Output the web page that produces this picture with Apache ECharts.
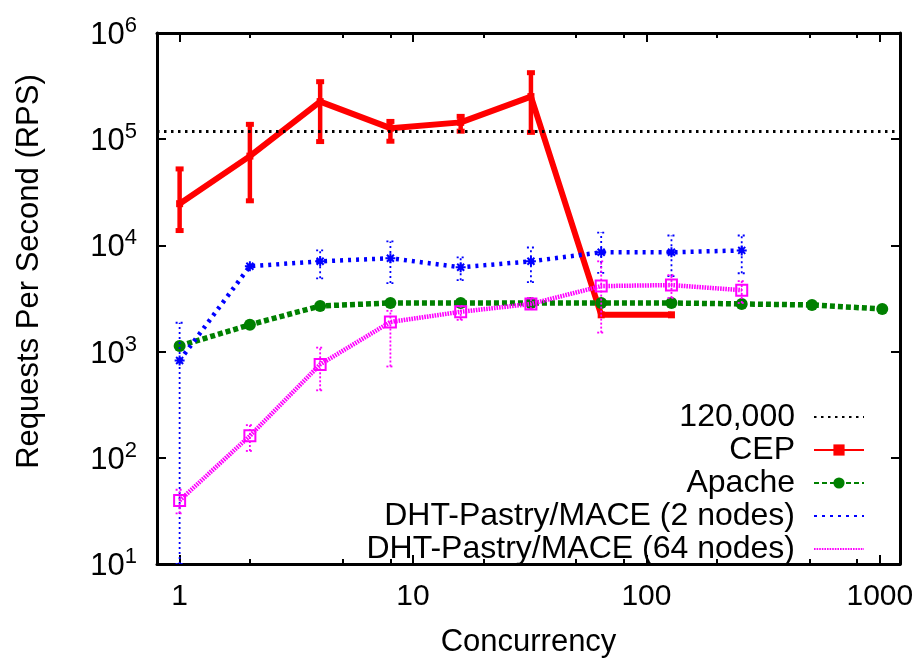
<!DOCTYPE html>
<html><head><meta charset="utf-8">
<script src="https://cdn.jsdelivr.net/npm/echarts@6/dist/echarts.min.js"></script>
<style>html,body{margin:0;padding:0;background:#fff}#c{width:922px;height:663px}</style>
</head><body><div id="c"></div>
<script>
// ---- data ----
const concurrency = [1, 2, 4, 8, 16, 32, 64, 128, 256, 512, 1024];
const xTicks = [1, 10, 100, 1000];
const xMinorTicks = [2, 5, 8, 20, 50, 80, 200, 500, 800];
const yTicks = [10, 100, 1000, 10000, 100000, 1000000];
const refValue = 120000;
const seriesNames = ['120,000', 'CEP', 'Apache', 'DHT-Pastry/MACE (2 nodes)', 'DHT-Pastry/MACE (64 nodes)'];
const cep = [24700, 69300, 226000, 127000, 144000, 252000, 2220, 2220];
const cepLow = [13800, 26300, 95000, 95700, 119000, 116000, null, null];
const cepHigh = [52500, 138000, 348000, 147000, 164000, 423000, null, null];
const apache = [1130, 1790, 2690, 2870, 2870, 2870, 2870, 2870, 2810, 2750, 2520];
const dht2 = [824, 6370, 7080, 7570, 6220, 7080, 8610, 8610, 8970];
const dht2Low = [10, null, 4900, 4420, 4710, 4510, 5500, 5130, 5470];
const dht2High = [1870, null, 8970, 10900, 7730, 9550, 13200, 12400, 12400];
const dht64 = [39.6, 161, 757, 1900, 2370, 2810, 4140, 4230, 3790];
const dht64Low = [30, 116, 432, 724, 1990, 2510, 1510, 3200, 2870];
const dht64High = [50, 203, 1090, 2420, 2690, 3200, 7080, 5250, 4610];

const FONT = 'Liberation Sans, Arial, Helvetica, sans-serif';
const RED = '#ff0000', GREEN = '#008000', BLUE = '#0000ff', MAG = '#ff00ff';

function pairs(vals) { return vals.map((v, i) => [concurrency[i], v]); }

function errSeries(name, low, high, opt) {
  const data = [];
  low.forEach((l, i) => { if (l != null) data.push([concurrency[i], l, high[i]]); });
  return {
    type: 'custom', name, data, clip: true, z: opt.z, silent: true,
    encode: { x: 0, y: [1, 2] },
    renderItem(params, api) {
      const x = api.value(0);
      const lo = api.coord([x, api.value(1)]);
      const hi = api.coord([x, api.value(2)]);
      const st = { stroke: opt.color, lineWidth: opt.width, lineDash: opt.dash || null, fill: null };
      const ch = [{ type: 'line', shape: { x1: lo[0], y1: lo[1], x2: hi[0], y2: hi[1] }, style: st }];
      if (opt.capRect) {
        [lo, hi].forEach(p => ch.push({ type: 'rect', shape: { x: p[0] - opt.capW / 2, y: p[1] - opt.capH / 2, width: opt.capW, height: opt.capH }, style: { fill: opt.color } }));
      } else {
        [lo, hi].forEach(p => ch.push({ type: 'line', shape: { x1: p[0] - opt.capW / 2, y1: p[1], x2: p[0] + opt.capW / 2, y2: p[1] }, style: st }));
      }
      return { type: 'group', children: ch };
    }
  };
}

const axisCommonX = { type: 'log', logBase: 10, min: 0.8, max: 1220, splitLine: { show: false } };
const axisCommonY = { type: 'log', logBase: 10, min: 10, max: 1000000, splitLine: { show: false } };
const tickStyle = { color: '#000', width: 2 };

const asterisk = 'path://M5,0L5,10M0,5L10,5M1.5,1.5L8.5,8.5M1.5,8.5L8.5,1.5';

// legend icons: show marker only where the reference key does
const legendShowMarker = [false, true, true, false, false];
const legends = seriesNames.map((n, i) => ({
  data: [legendShowMarker[i] ? { name: n } : { name: n, itemStyle: { opacity: 0 } }],
  right: 57, top: 401 + 33 * i, align: 'right', orient: 'vertical', padding: 0,
  itemWidth: 50, itemHeight: 14, selectedMode: false,
  textStyle: { fontSize: 32, fontFamily: FONT, color: '#000', lineHeight: 32, padding: [0, 14, 0, 0] }
}));

const option = {
  animation: false,
  backgroundColor: '#fff',
  textStyle: { fontFamily: FONT },
  grid: { left: 157, right: 22, top: 33, bottom: 95, containLabel: false },
  legend: legends,
  xAxis: [
    Object.assign({}, axisCommonX, {
      position: 'bottom',
      axisLine: { lineStyle: { color: '#000', width: 3 } },
      axisTick: { inside: true, length: 9, lineStyle: tickStyle, customValues: xTicks },
      axisLabel: { customValues: xTicks, fontSize: 30, fontFamily: FONT, color: '#000', margin: 18, formatter: v => String(Math.round(v)) },
      name: 'Concurrency', nameLocation: 'middle', nameGap: 63,
      nameTextStyle: { fontSize: 31, fontFamily: FONT, color: '#000' }
    }),
    Object.assign({}, axisCommonX, {
      position: 'bottom', axisLine: { show: false },
      axisTick: { inside: true, length: 5, lineStyle: tickStyle, customValues: xMinorTicks },
      axisLabel: { show: false }
    }),
    Object.assign({}, axisCommonX, {
      position: 'top',
      axisLine: { lineStyle: { color: '#000', width: 3 } },
      axisTick: { inside: true, length: 9, lineStyle: tickStyle, customValues: xTicks },
      axisLabel: { show: false }
    }),
    Object.assign({}, axisCommonX, {
      position: 'top', axisLine: { show: false },
      axisTick: { inside: true, length: 5, lineStyle: tickStyle, customValues: xMinorTicks },
      axisLabel: { show: false }
    })
  ],
  yAxis: [
    Object.assign({}, axisCommonY, {
      position: 'left',
      axisLine: { lineStyle: { color: '#000', width: 3 } },
      axisTick: { inside: true, length: 9, lineStyle: tickStyle, customValues: yTicks },
      axisLabel: {
        customValues: yTicks, margin: 20, color: '#000',
        formatter: v => '{b|10}{s|' + Math.round(Math.log10(v)) + '}',
        rich: {
          b: { fontSize: 31, fontFamily: FONT, color: '#000', lineHeight: 36, verticalAlign: 'bottom' },
          s: { fontSize: 22, fontFamily: FONT, color: '#000', verticalAlign: 'top', lineHeight: 36 }
        }
      },
      name: 'Requests Per Second (RPS)', nameLocation: 'middle', nameGap: 112,
      nameTextStyle: { fontSize: 31, fontFamily: FONT, color: '#000', padding: [0, 0, 0, 54] }
    }),
    Object.assign({}, axisCommonY, {
      position: 'right',
      axisLine: { lineStyle: { color: '#000', width: 3 } },
      axisTick: { inside: true, length: 9, lineStyle: tickStyle, customValues: yTicks },
      axisLabel: { show: false }
    })
  ],
  series: [
    {
      name: seriesNames[0], type: 'line', data: [], symbol: 'none', z: 2,
      lineStyle: { color: '#000', width: 3, type: [2.5, 4.5] },
      itemStyle: { color: '#000' },
      markLine: {
        silent: true, symbol: 'none', label: { show: false },
        lineStyle: { color: '#000', width: 3, type: [2.5, 4.5] },
        data: [{ yAxis: refValue }]
      }
    },
    errSeries('cepErr', cepLow, cepHigh, { color: RED, width: 4.5, capRect: true, capW: 8, capH: 5, z: 3 }),
    {
      name: seriesNames[1], type: 'line', data: pairs(cep), z: 3,
      symbol: 'rect', symbolSize: 7,
      lineStyle: { color: RED, width: 6 },
      itemStyle: { color: RED }
    },
    {
      name: seriesNames[2], type: 'line', data: pairs(apache), z: 4,
      symbol: 'circle', symbolSize: 12,
      lineStyle: { color: GREEN, width: 5.5, type: [5, 3] },
      itemStyle: { color: GREEN }
    },
    errSeries('dht2Err', dht2Low, dht2High, { color: BLUE, width: 1.8, dash: [2, 3], capW: 8, z: 5 }),
    {
      name: seriesNames[3], type: 'line', data: pairs(dht2), z: 5,
      symbol: asterisk, symbolSize: 10,
      lineStyle: { color: BLUE, width: 4.5, type: [3, 5] },
      itemStyle: { color: BLUE, borderColor: BLUE, borderWidth: 2 }
    },
    errSeries('dht64Err', dht64Low, dht64High, { color: MAG, width: 1.8, dash: [2, 2], capW: 8, z: 6 }),
    {
      name: seriesNames[4], type: 'line', data: pairs(dht64), z: 6,
      symbol: 'rect', symbolSize: 11,
      lineStyle: { color: MAG, width: 4.5, type: [1.6, 1] },
      itemStyle: { color: 'rgba(0,0,0,0)', borderColor: MAG, borderWidth: 2 }
    }
  ]
};

const chart = echarts.init(document.getElementById('c'), null, { renderer: 'canvas' });
chart.setOption(option);
</script>
</body></html>
